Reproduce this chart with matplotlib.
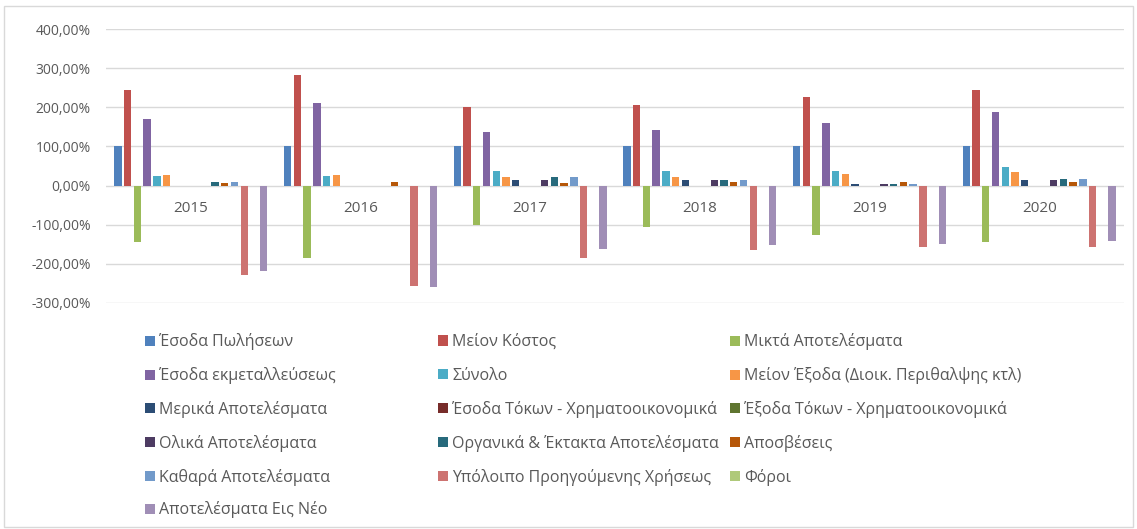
import matplotlib
matplotlib.use("Agg")
import matplotlib.pyplot as plt
import matplotlib.ticker as mticker
from matplotlib.patches import Rectangle, Patch
import numpy as np

plt.rcParams['font.family'] = ['Open Sans', 'DejaVu Sans']

years = ["2015", "2016", "2017", "2018", "2019", "2020"]

series_names = [
    "Έσοδα Πωλήσεων",
    "Μείον Κόστος",
    "Μικτά Αποτελέσματα",
    "Έσοδα εκμεταλλεύσεως",
    "Σύνολο",
    "Μείον Έξοδα (Διοικ. Περιθαλψης κτλ)",
    "Μερικά Αποτελέσματα",
    "Έσοδα Τόκων - Χρηματοοικονομικά",
    "Έξοδα Τόκων - Χρηματοοικονομικά",
    "Ολικά Αποτελέσματα",
    "Οργανικά & Έκτακτα Αποτελέσματα",
    "Αποσβέσεις",
    "Καθαρά Αποτελέσματα",
    "Υπόλοιπο Προηγούμενης Χρήσεως",
    "Φόροι",
    "Αποτελέσματα Εις Νέο",
]

# values in percent, one list per series (2015..2020)
esoda_polisewn = [100, 100, 100, 100, 100, 100]
meion_kostos = [245, 283, 200, 207, 227, 244]
mikta = [-145, -185, -100, -107, -126, -143]
esoda_ekmet = [170, 210, 136, 143, 161, 188]
synolo = [25, 25, 37, 37, 37, 47]
meion_exoda = [27, 27, 22, 22, 30, 34]
merika = [0, 0, 15, 15, 5, 13]
esoda_tokwn = [0, 0, 0, 0, 0, 0]
exoda_tokwn = [0, 0, 0, 0, 0, 0]
olika = [0, 0, 15, 15, 5, 13]
organika = [8, 0, 22, 15, 5, 18]
aposveseis = [7, 8, 6, 8, 8, 10]
kathara = [9, 0, 22, 15, 5, 18]
ypoloipo = [-229, -256, -185, -165, -156, -158]
foroi = [0, 0, 0, 0, 0, 0]
eis_neo = [-219, -258, -163, -151, -148, -141]

all_values = [esoda_polisewn, meion_kostos, mikta, esoda_ekmet, synolo,
              meion_exoda, merika, esoda_tokwn, exoda_tokwn, olika, organika,
              aposveseis, kathara, ypoloipo, foroi, eis_neo]

colors = ["#4F81BD", "#C0504D", "#9BBB59", "#8064A2", "#4BACC6", "#F79646",
          "#2C4D75", "#772C2A", "#5F7530", "#4D3B62", "#276A7C", "#B65708",
          "#729ACA", "#CD7371", "#AFC97A", "#A08EB6"]

W, H = 1137, 529
fig = plt.figure(figsize=(W / 100, H / 100), dpi=100)
fig.patches.append(Rectangle((4 / W, 2 / H), (W - 8) / W, (H - 8) / H,
                             transform=fig.transFigure, fill=False,
                             edgecolor="#D9D9D9", linewidth=1))

left, right, top, bottom = 106, 1124, 29, 303
ax = fig.add_axes([left / W, 1 - bottom / H, (right - left) / W, (bottom - top) / H])

x = np.arange(len(years))
slot = 0.0572
n = len(all_values)
for i, vals in enumerate(all_values):
    ax.bar(x + (i - (n - 1) / 2) * slot, vals, width=slot * 0.76,
           color=colors[i], zorder=3)

ax.set_xlim(-0.5, len(years) - 0.5)
ax.set_ylim(-300, 400)
ax.set_yticks(np.arange(-300, 401, 100))
ax.yaxis.set_major_formatter(mticker.FuncFormatter(
    lambda v, p: f"{v:.2f}%".replace(".", ",")))
ax.grid(axis="y", color="#D9D9D9", linewidth=1, zorder=0)
ax.tick_params(axis="y", length=0, pad=11, labelsize=10, labelcolor="#595959")
ax.set_xticks([])
for s in ax.spines.values():
    s.set_visible(False)

for xi, yr in zip(x, years):
    ax.text(xi, -59, yr, ha="center", va="center", fontsize=11,
            color="#595959", zorder=2)

# legend: 3 columns, filled row by row like Excel
col_x = [145, 438, 730]
row_y = [342, 376, 409, 443, 477, 510]
for i in range(n):
    r, c = divmod(i, 3)
    fig.legend([Patch(facecolor=colors[i])], [series_names[i]],
               loc="center left", bbox_to_anchor=(col_x[c] / W, 1 - row_y[r] / H),
               frameon=False, fontsize=11.5, labelcolor="#595959",
               handlelength=0.6, handleheight=0.6, handletextpad=0.3,
               borderpad=0, borderaxespad=0)

fig.savefig("out.png", dpi=100, facecolor="white")
